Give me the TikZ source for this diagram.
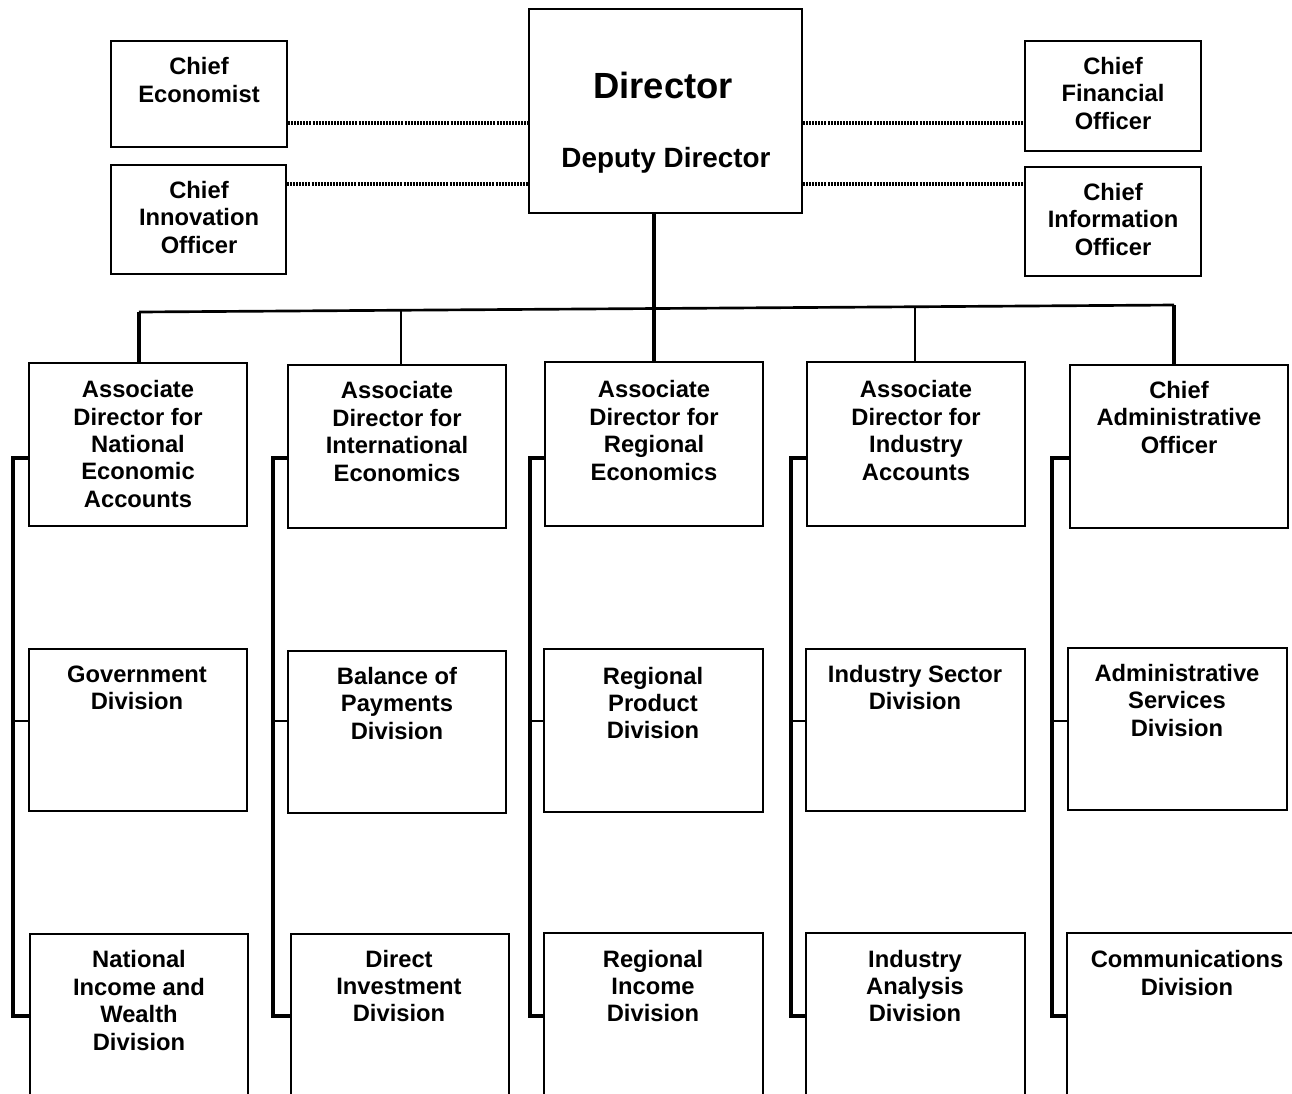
\documentclass[tikz,border=0pt]{standalone}
\usepackage{fontspec}
\setmainfont{Liberation Sans}
\usetikzlibrary{calc}
\newcommand\orgbox[5]{\node[orgbox, minimum width={(#4-#2)*0.75pt}, minimum height={(#5-#3)*0.75pt}] (#1) at ({(#2+#4)/2},{(#3+#5)/2}) {};}
\begin{document}
\begin{tikzpicture}[x=0.75pt,y=-0.75pt,
  orgbox/.style={draw, line width=1.5pt, inner sep=0pt, fill=white},
  lbl/.style={align=center, font=\bfseries\fontsize{17.8}{20.6}\selectfont, inner sep=0pt},
  conn/.style={line width=2.4pt},
  trunk/.style={line width=3pt},
  busline/.style={line width=2pt},
  stub/.style={line width=1.5pt},
  dropline/.style={line width=1.9pt},
  dotline/.style={line width=2.4pt, dash pattern=on 1.5pt off 0.8pt}]
\useasboundingbox (0,0) rectangle (1292,1093);
\clip (0,0) rectangle (1292,1093);
\fill[white] (0,0) rectangle (1292,1093);

% top level
\orgbox{dir}{529}{9}{802}{213}
\orgbox{ce}{111}{41}{287}{147}
\orgbox{cino}{111}{165}{286}{274}
\orgbox{cfo}{1025}{41}{1201}{151}
\orgbox{cio}{1025}{167}{1201}{276}
% row 1
\orgbox{adnea}{29}{363}{247}{526}
\orgbox{adie}{288}{365}{506}{528}
\orgbox{adre}{545}{362}{763}{526}
\orgbox{adia}{807}{362}{1025}{526}
\orgbox{cao}{1070}{365}{1288}{528}
% row 2
\orgbox{gov}{29}{649}{247}{811}
\orgbox{bop}{288}{651}{506}{813}
\orgbox{rp}{544}{649}{763}{812}
\orgbox{isd}{806}{649}{1025}{811}
\orgbox{asd}{1068}{648}{1287}{810}
% row 3
\orgbox{niwd}{30}{934}{248}{1110}
\orgbox{did}{291}{934}{509}{1110}
\orgbox{rid}{544}{933}{763}{1110}
\orgbox{iad}{806}{933}{1025}{1110}
\orgbox{cd}{1067}{933}{1300}{1110}

% labels
\node[font=\bfseries\fontsize{27.3}{32}\selectfont, inner sep=0pt] (t-dir) at (663,85) {Director};
\node[font=\bfseries\fontsize{20.9}{24}\selectfont, inner sep=0pt] (t-dep) at (666,160) {Deputy Director};
\node[lbl] (t-ce) at (199,80) {Chief\\Economist};
\node[lbl] (t-cino) at (199,217.5) {Chief\\Innovation\\Officer};
\node[lbl] (t-cfo) at (1113,93.5) {Chief\\Financial\\Officer};
\node[lbl] (t-cio) at (1113,219.5) {Chief\\Information\\Officer};
\node[lbl] (t-adnea) at (138,444) {Associate\\Director for\\National\\Economic\\Accounts};
\node[lbl] (t-adie) at (397,431.5) {Associate\\Director for\\International\\Economics};
\node[lbl] (t-adre) at (654,430.5) {Associate\\Director for\\Regional\\Economics};
\node[lbl] (t-adia) at (916,430.5) {Associate\\Director for\\Industry\\Accounts};
\node[lbl] (t-cao) at (1179,417.5) {Chief\\Administrative\\Officer};
\node[lbl] (t-gov) at (137,688) {Government\\Division};
\node[lbl] (t-bop) at (397,703.5) {Balance of\\Payments\\Division};
\node[lbl] (t-rp) at (653,703) {Regional\\Product\\Division};
\node[lbl] (t-isd) at (915,687.5) {Industry Sector\\Division};
\node[lbl] (t-asd) at (1177,700.5) {Administrative\\Services\\Division};
\node[lbl] (t-niwd) at (139,1000.5) {National\\Income and\\Wealth\\Division};
\node[lbl] (t-did) at (399,986) {Direct\\Investment\\Division};
\node[lbl] (t-rid) at (653,986) {Regional\\Income\\Division};
\node[lbl] (t-iad) at (915,986) {Industry\\Analysis\\Division};
\node[lbl] (t-cd) at (1187,973) {Communications\\Division};

% dotted staff lines
\coordinate (dA) at (0,123);
\coordinate (dB) at (0,184);
\draw[dotline] (ce.east |- dA) -- (dir.west |- dA);
\draw[dotline] (cino.east |- dB) -- (dir.west |- dB);
\draw[dotline] (dir.east |- dA) -- (cfo.west |- dA);
\draw[dotline] (dir.east |- dB) -- (cio.west |- dB);

% trunk and bus
\draw[trunk] (adre.north |- dir.south) -- (adre.north);
\coordinate (busL) at (139,312);
\coordinate (busR) at (1174,305);
\draw[busline] (busL) -- (busR);
\coordinate (b2) at ($(busL)!0.2531!(busR)$);
\coordinate (b4) at ($(busL)!0.7498!(busR)$);
\draw[conn] (busL) -- (busL |- adnea.north);
\draw[dropline] (b2) -- (b2 |- adie.north);
\draw[dropline] (b4) -- (b4 |- adia.north);
\draw[conn] (busR) -- (busR |- cao.north);

% column brackets
\foreach \c/\x/\a/\m/\b in {1/13/adnea/gov/niwd, 2/273/adie/bop/did, 3/530/adre/rp/rid, 4/791/adia/isd/iad, 5/1052/cao/asd/cd} {
  \coordinate (k\c t) at (\x,458);
  \coordinate (k\c m) at (\x,721);
  \coordinate (k\c b) at (\x,1016);
  \draw[conn] (\a.west |- k\c t) -- (k\c t) -- (k\c b) -- (\b.west |- k\c b);
  \draw[stub] (k\c m) -- (\m.west |- k\c m);
}
\end{tikzpicture}
\end{document}
